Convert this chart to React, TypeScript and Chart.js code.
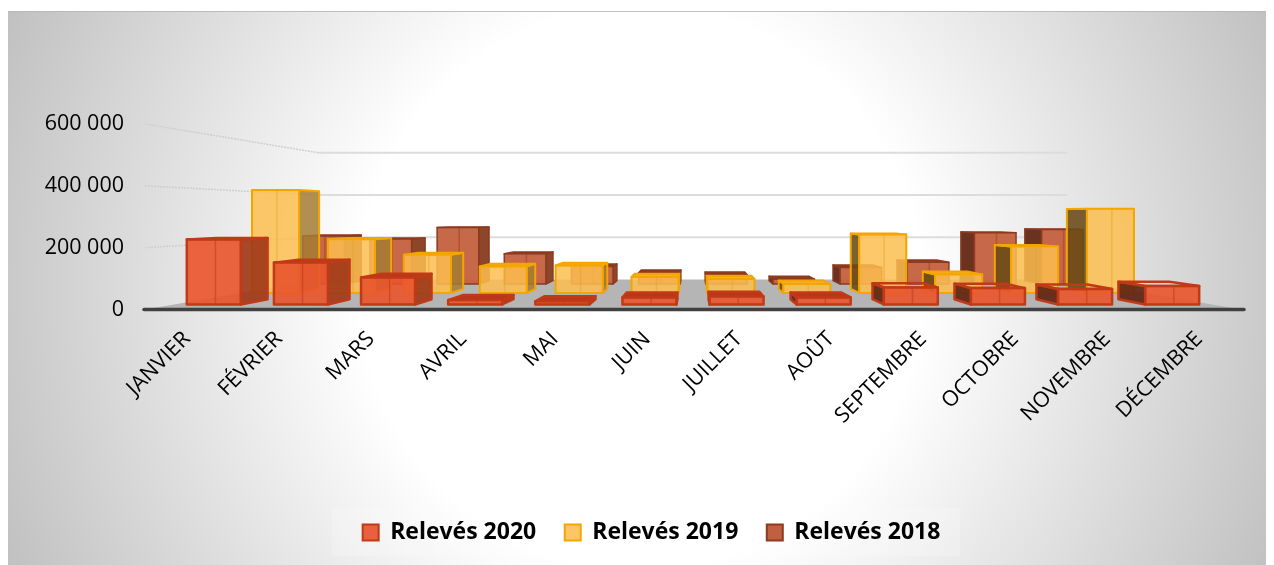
import React, { useEffect, useRef } from "react";
import { Chart, registerables } from "chart.js";

Chart.register(...registerables);

const months = ["JANVIER", "FÉVRIER", "MARS", "AVRIL", "MAI", "JUIN", "JUILLET", "AOÛT", "SEPTEMBRE", "OCTOBRE", "NOVEMBRE", "DÉCEMBRE"];
const releves2020 = [222000, 143000, 92000, 15000, 11000, 24000, 27000, 24000, 58000, 56000, 53000, 63000];
const releves2019 = [404000, 211000, 150000, 104000, 108000, 63000, 55000, 35000, 229000, 72000, 182000, 330000];
const releves2018 = [213000, 199000, 250000, 134000, 78000, 50000, 40000, 21000, 73000, 96000, 227000, 241000];
const seriesNames = ["Relevés 2020", "Relevés 2019", "Relevés 2018"];

const VANISH = { x: 685, y: 207 };
const WALL_DEPTH = 0.683;
const LEGEND_SHIFT = 25;
const FONT = "'Open Sans', sans-serif";

const looks = [
  { front: 0.947, back: 0.891, fill: "rgba(233,84,44,0.9)", swatch: "#E9603F", edge: "#C03A17", right: "rgba(160,58,24,0.92)", left: "rgba(96,36,18,0.92)", top: "#B9361A", seam: "rgba(192,58,23,0.55)", width: 2.5, openFrom: 8 },
  { front: 0.825, back: 0.783, fill: "rgba(253,190,80,0.85)", swatch: "#FEC566", edge: "#F3A500", right: "rgba(165,125,50,0.85)", left: "rgba(105,75,20,0.88)", top: "#F5B01E", seam: "rgba(230,160,40,0.45)", width: 2, openFrom: 99 },
  { front: 0.73, back: 0.695, fill: "rgba(196,96,62,0.95)", swatch: "#C0603F", edge: "#8C3A20", right: "rgba(140,66,38,0.98)", left: "rgba(104,46,28,0.98)", top: "#8C3A20", seam: "rgba(160,60,30,0.5)", width: 1.5, openFrom: 99 },
];

type Pt = { x: number; y: number };
const project = (x: number, y: number, s: number): Pt => ({
  x: VANISH.x + (x - VANISH.x) * s,
  y: VANISH.y + (y - VANISH.y) * s,
});

function poly(ctx: CanvasRenderingContext2D, pts: Pt[], fill: string | null, stroke: string | null, width = 1) {
  ctx.beginPath();
  pts.forEach((p, i) => (i ? ctx.lineTo(p.x, p.y) : ctx.moveTo(p.x, p.y)));
  ctx.closePath();
  if (fill) {
    ctx.fillStyle = fill;
    ctx.fill();
  }
  if (stroke) {
    ctx.strokeStyle = stroke;
    ctx.lineWidth = width;
    ctx.lineJoin = "round";
    ctx.stroke();
  }
}

const backdrop = {
  id: "backdrop",
  afterLayout(chart: any) {
    chart.legend.left += LEGEND_SHIFT;
    chart.legend.right += LEGEND_SHIFT;
  },
  beforeDraw(chart: any) {
    const { ctx, width, height } = chart;
    const g = ctx.createRadialGradient(632, 280, 280, 632, 280, 700);
    g.addColorStop(0, "#ffffff");
    g.addColorStop(1, "#bfbfbf");
    ctx.save();
    ctx.fillStyle = g;
    ctx.fillRect(0, 3, width, height - 3);
    ctx.fillStyle = "rgba(180,180,180,0.8)";
    ctx.fillRect(0, 3, width, 1);
    ctx.fillStyle = "rgba(255,255,255,0.2)";
    ctx.fillRect(324, 500, 628, 48);
    ctx.restore();
  },
};

const scene3d = {
  id: "scene3d",
  beforeDatasetsDraw(chart: any) {
    const { ctx, chartArea, scales } = chart;
    const { left, right } = chartArea;
    const yScale = scales.y;
    const zero = yScale.getPixelForValue(0);
    ctx.save();

    // floor
    const fl = project(left + 4, zero, WALL_DEPTH);
    const fr = project(right - 4, zero, WALL_DEPTH);
    poly(ctx, [{ x: left + 4, y: zero }, fl, fr, { x: right - 4, y: zero }], "#b5b5b5", null);

    // perspective gridlines
    yScale.ticks.forEach((t: any) => {
      if (t.value === 0) return;
      const y = yScale.getPixelForValue(t.value);
      const a = project(left + 4, y, WALL_DEPTH);
      const b = project(right - 4, y, WALL_DEPTH);
      ctx.strokeStyle = "#cfcfcf";
      ctx.lineWidth = 1.5;
      ctx.setLineDash([2, 1]);
      ctx.beginPath();
      ctx.moveTo(left + 4, y);
      ctx.lineTo(a.x, a.y);
      ctx.stroke();
      ctx.setLineDash([]);
      ctx.lineWidth = 2;
      ctx.strokeStyle = "#dcdcdc";
      ctx.beginPath();
      ctx.moveTo(a.x, a.y);
      ctx.lineTo(b.x, b.y);
      ctx.stroke();
    });

    // front base line
    ctx.strokeStyle = "#404040";
    ctx.lineWidth = 3.5;
    ctx.lineCap = "round";
    ctx.beginPath();
    ctx.moveTo(left + 3, zero);
    ctx.lineTo(right - 1, zero);
    ctx.stroke();
    ctx.lineCap = "butt";

    // bars, back row first
    for (let d = chart.data.datasets.length - 1; d >= 0; d--) {
      const look = looks[d];
      const bars = chart.getDatasetMeta(d).data.map((el: any, i: number) => ({ el, i }));
      bars.sort((a: any, b: any) => Math.abs(b.el.x - VANISH.x) - Math.abs(a.el.x - VANISH.x));
      bars.forEach(({ el, i }: any) => {
        const xl = el.x - el.width / 2;
        const xr = el.x + el.width / 2;
        const top = el.y;
        const base = el.base;
        const f = look.front;
        const b = look.back;
        const open = i >= look.openFrom;
        const w = look.width;

        if (xr < VANISH.x) {
          poly(ctx, [project(xr, top, f), project(xr, top, b), project(xr, base, b), project(xr, base, f)], look.right, look.edge, w);
        } else if (xl > VANISH.x) {
          poly(ctx, [project(xl, top, f), project(xl, top, b), project(xl, base, b), project(xl, base, f)], look.left, look.edge, w);
        }
        if (top > VANISH.y) {
          const topFace = [project(xl, top, f), project(xr, top, f), project(xr, top, b), project(xl, top, b)];
          poly(ctx, topFace, open ? null : look.top, look.edge, w);
        }
        const front = [project(xl, top, f), project(xr, top, f), project(xr, base, f), project(xl, base, f)];
        poly(ctx, front, look.fill, null);
        const s1 = project(el.x + el.width * 0.03, top, f);
        const s2 = project(el.x + el.width * 0.03, base, f);
        ctx.strokeStyle = look.seam;
        ctx.lineWidth = 1.5;
        ctx.beginPath();
        ctx.moveTo(s1.x, s1.y);
        ctx.lineTo(s2.x, s2.y);
        ctx.stroke();
        poly(ctx, front, null, look.edge, w);
      });
    }
    ctx.restore();
    return false;
  },
};

const valueLabel = (v: any) => String(v).replace(/\B(?=(\d{3})+$)/g, " ");

export default function App() {
  const ref = useRef<HTMLCanvasElement>(null);
  useEffect(() => {
    const chart = new Chart(ref.current as HTMLCanvasElement, {
      type: "bar",
      data: {
        labels: months,
        datasets: [releves2020, releves2019, releves2018].map((data, i) => ({
          label: seriesNames[i],
          data,
          backgroundColor: looks[i].swatch,
          borderColor: looks[i].edge,
          borderWidth: 2,
          grouped: false,
          barPercentage: 0.62,
          categoryPercentage: 1,
        })),
      },
      options: {
        responsive: false,
        animation: false,
        layout: { padding: { top: 116, right: 21, left: 0, bottom: 11 } },
        scales: {
          x: {
            border: { display: false },
            grid: { display: false },
            ticks: {
              color: "#000000",
              font: { family: FONT, size: 21.5 },
              minRotation: 45,
              maxRotation: 45,
              autoSkip: false,
              padding: 9,
            },
            afterFit: (s: any) => { s.height = 183; },
          },
          y: {
            min: 0,
            max: 600000,
            border: { display: false },
            grid: { display: false, drawTicks: false },
            ticks: {
              stepSize: 200000,
              color: "#000000",
              font: { family: FONT, size: 21.5 },
              padding: 17,
              callback: valueLabel,
            },
            afterFit: (s: any) => { s.width = 133; },
          },
        },
        plugins: {
          tooltip: { enabled: false },
          legend: {
            position: "bottom",
            labels: {
              color: "#000000",
              font: { family: FONT, size: 23, weight: "bold" },
              boxWidth: 16,
              boxHeight: 16,
              padding: 28.5,
            },
          },
        },
      },
      plugins: [backdrop, scene3d],
    } as any);
    return () => chart.destroy();
  }, []);
  return <canvas ref={ref} width={1258} height={557} style={{ display: "block" }} />;
}
